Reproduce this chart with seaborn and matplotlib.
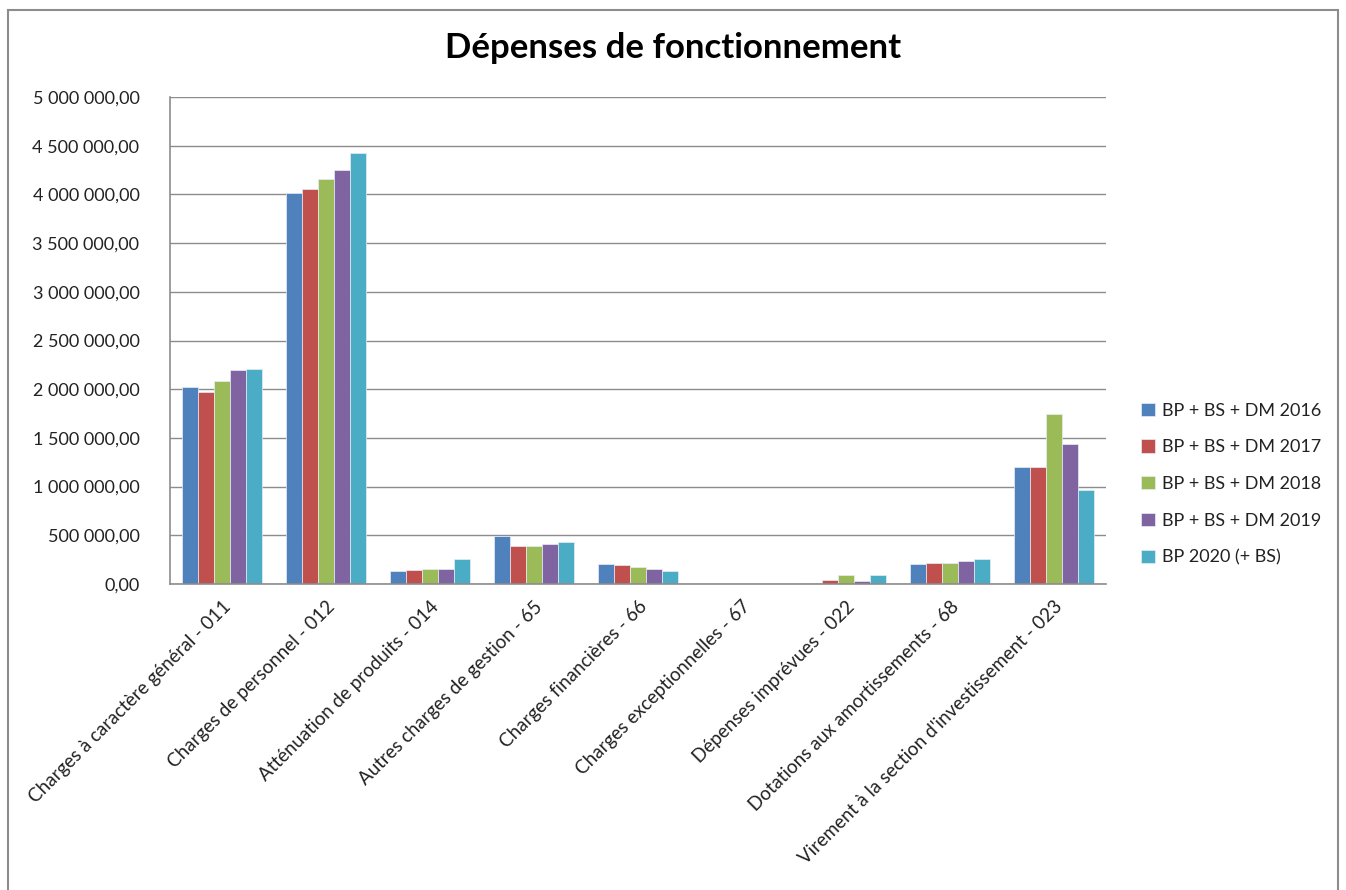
import pandas as pd
import matplotlib
matplotlib.use("Agg")
import matplotlib.pyplot as plt
import matplotlib.ticker as mticker
from matplotlib.patches import Rectangle
import seaborn as sns

# Data
categories = [
    "Charges à caractère général - 011",
    "Charges de personnel - 012",
    "Atténuation de produits - 014",
    "Autres charges de gestion - 65",
    "Charges financières - 66",
    "Charges exceptionnelles - 67",
    "Dépenses imprévues - 022",
    "Dotations aux amortissements - 68",
    "Virement à la section d'investissement - 023",
]
series = [
    "BP + BS + DM 2016",
    "BP + BS + DM 2017",
    "BP + BS + DM 2018",
    "BP + BS + DM 2019",
    "BP 2020 (+ BS)",
]
v2016 = [2025000, 4017000, 130000, 496000, 202000, 0, 15000, 202000, 1198000]
v2017 = [1974000, 4058000, 144000, 387000, 192000, 0, 45000, 219000, 1198000]
v2018 = [2087000, 4161000, 154000, 387000, 171000, 0, 96000, 219000, 1745000]
v2019 = [2194000, 4253000, 154000, 411000, 151000, 0, 31000, 240000, 1437000]
v2020 = [2210000, 4428000, 253000, 431000, 130000, 0, 96000, 260000, 962000]
colors = ["#4F81BD", "#C0504D", "#9BBB59", "#8064A2", "#4BACC6"]

rows = []
for name, vals in zip(series, [v2016, v2017, v2018, v2019, v2020]):
    for cat, v in zip(categories, vals):
        rows.append({"categorie": cat, "serie": name, "montant": v})
df = pd.DataFrame(rows)

sns.set_style("white")
plt.rcParams["font.family"] = ["Lato", "DejaVu Sans"]

fig = plt.figure(figsize=(13.46, 8.90), dpi=100)
ax = fig.add_axes([170 / 1346, 1 - 584 / 890, 936 / 1346, 487 / 890])

sns.barplot(data=df, x="categorie", y="montant", hue="serie", palette=colors,
            order=categories, hue_order=series, width=0.76, gap=0, saturation=1,
            edgecolor="#e8eef6", linewidth=0.5, ax=ax)

ax.set_ylim(0, 5000000)
ax.set_xlim(-0.5, len(categories) - 0.5)
ax.yaxis.set_major_locator(mticker.MultipleLocator(500000))
ax.yaxis.set_major_formatter(mticker.FuncFormatter(
    lambda v, p: f"{v:,.2f}".replace(",", " ").replace(".", ",")))
ax.grid(axis="y", color="#8c8c8c", linewidth=1)
ax.set_axisbelow(True)
for s in ["top", "right"]:
    ax.spines[s].set_visible(False)
for s in ["left", "bottom"]:
    ax.spines[s].set_color("#8c8c8c")
    ax.spines[s].set_linewidth(1.2)
ax.tick_params(axis="y", length=0, pad=22, labelsize=13, labelcolor="#222222")
ax.tick_params(axis="x", length=0, pad=10, labelsize=13.5, labelcolor="#222222")
plt.setp(ax.get_xticklabels(), rotation=45, ha="right", rotation_mode="anchor")
ax.set_xlabel("")
ax.set_ylabel("")

fig.text(673 / 1346, 1 - 48 / 890, "Dépenses de fonctionnement", ha="center", va="center",
         fontsize=25, fontweight="bold", color="black")

leg = ax.legend(loc="center left", bbox_to_anchor=(1.02, 0.205), frameon=False,
                fontsize=13, handlelength=0.75, handleheight=0.75,
                handletextpad=0.4, labelspacing=1.15)
for t in leg.get_texts():
    t.set_color("#222222")

fig.patches.append(Rectangle((8 / 1346, -0.01), 1330 / 1346, 1 - 10 / 890 + 0.01,
                             transform=fig.transFigure, fill=False,
                             edgecolor="#8c8c8c", linewidth=1.5))

fig.savefig("out.png", dpi=100)
